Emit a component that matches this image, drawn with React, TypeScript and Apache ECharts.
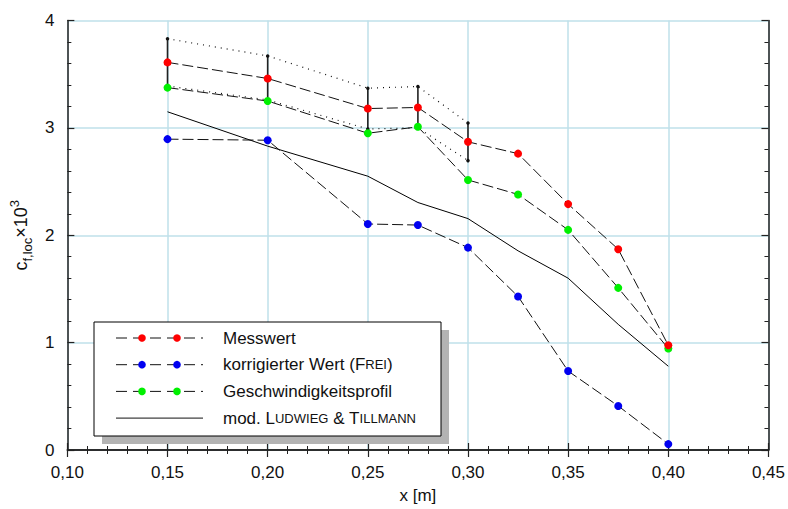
import React, { useEffect, useRef } from "react";
import * as echarts from "echarts";

const xs = [0.15, 0.2, 0.25, 0.275, 0.3, 0.325, 0.35, 0.375, 0.4];
const messwert = [3.61, 3.46, 3.18, 3.19, 2.87, 2.76, 2.29, 1.87, 0.975];
const frei = [2.895, 2.885, 2.105, 2.095, 1.885, 1.43, 0.735, 0.41, 0.055];
const profil = [3.375, 3.25, 2.95, 3.01, 2.515, 2.38, 2.05, 1.51, 0.945];
const ludwieg = [3.15, 2.83, 2.55, 2.305, 2.155, 1.855, 1.6, 1.17, 0.78];
const errX = [0.15, 0.2, 0.25, 0.275, 0.3];
const errUpper = [3.83, 3.67, 3.37, 3.385, 3.045];
const errLower = [3.39, 3.26, 2.99, 3.0, 2.695];

const colRed = "#ff0000";
const colBlue = "#0000f0";
const colGreen = "#00f000";

const FONT = "Liberation Sans, Arial, sans-serif";

const legendItems = [
  { text: "{n|Messwert}", color: colRed, dashed: true },
  { text: "{n|korrigierter Wert (F}{s|REI}{n|)}", color: colBlue, dashed: true },
  { text: "{n|Geschwindigkeitsprofil}", color: colGreen, dashed: true },
  { text: "{n|mod. L}{s|UDWIEG}{n| & T}{s|ILLMANN}", color: null, dashed: false },
];

export default function App() {
  const ref = useRef<HTMLDivElement>(null);
  useEffect(() => {
    if (!ref.current) return;
    const chart = echarts.init(ref.current, null, { renderer: "svg" });
    const pair = (ys: number[]) => xs.map((x, i) => [x, ys[i]]);
    const dashed = { color: "#111", width: 1, type: [11, 4] as any };

    const lx = 94, ly = 322, lw = 347, lh = 114;
    const legendGraphics: any[] = [
      { type: "rect", shape: { x: lx + 8, y: ly + 8, width: lw, height: lh }, style: { fill: "#b3b3b3" }, z: 100 },
      { type: "rect", shape: { x: lx, y: ly, width: lw, height: lh }, style: { fill: "#fff", stroke: "#000", lineWidth: 1 }, z: 101 },
    ];
    legendItems.forEach((it, i) => {
      const y = 338 + i * 26.7;
      legendGraphics.push({
        type: "line",
        shape: { x1: 116, y1: y, x2: 203, y2: y },
        style: { stroke: "#111", lineWidth: 1, lineDash: it.dashed ? [11, 6] : null },
        z: 102,
      });
      if (it.color) {
        [142, 177].forEach((cx) =>
          legendGraphics.push({ type: "circle", shape: { cx, cy: y, r: 3.8 }, style: { fill: it.color }, z: 103 })
        );
      }
      legendGraphics.push({
        type: "text",
        x: 223,
        y,
        style: {
          text: it.text,
          verticalAlign: "middle",
          fill: "#111",
          rich: {
            n: { fontSize: 17, fontFamily: FONT, fill: "#111" },
            s: { fontSize: 13, fontFamily: FONT, fill: "#111" },
          },
        },
        z: 103,
      });
    });

    const axisCommon = {
      axisLine: { show: true, lineStyle: { color: "#222", width: 1.5 } },
      axisTick: { show: true, inside: true, length: 7, lineStyle: { color: "#222", width: 1.2 } },
      minorTick: { show: true, splitNumber: 5, length: 4, lineStyle: { color: "#222", width: 1 } },
    };

    chart.setOption({
      animation: false,
      backgroundColor: "#fff",
      grid: { left: 66, right: 19, top: 20.5, bottom: 54.5 },
      xAxis: [
        {
          type: "value",
          min: 0.1,
          max: 0.45,
          interval: 0.05,
          position: "bottom",
          ...axisCommon,
          splitLine: { show: true, lineStyle: { color: "#bfe0ea", width: 1.5 } },
          axisLabel: {
            fontSize: 17,
            fontFamily: FONT,
            color: "#111",
            margin: 14,
            formatter: (v: number) => v.toFixed(2).replace(".", ","),
          },
          name: "x [m]",
          nameLocation: "middle",
          nameGap: 37,
          nameTextStyle: { fontSize: 17, fontFamily: FONT, color: "#111" },
        },
        {
          type: "value",
          min: 0.1,
          max: 0.45,
          interval: 0.05,
          position: "top",
          ...axisCommon,
          splitLine: { show: false },
          axisLabel: { show: false },
        },
      ],
      yAxis: [
        {
          type: "value",
          min: 0,
          max: 4,
          interval: 1,
          position: "left",
          ...axisCommon,
          splitLine: { show: true, lineStyle: { color: "#bfe0ea", width: 1.5 } },
          axisLabel: { fontSize: 17, fontFamily: FONT, color: "#111", margin: 13 },
          name: "{c|c}{sub|f,loc}{x|×10}{sup|3}",
          nameLocation: "middle",
          nameRotate: 90,
          nameGap: 26,
          nameTextStyle: {
            rich: {
              c: { fontSize: 18, fontFamily: FONT, color: "#111", lineHeight: 26, verticalAlign: "middle" },
              sub: { fontSize: 13, fontFamily: FONT, color: "#111", lineHeight: 26, verticalAlign: "bottom" },
              x: { fontSize: 18, fontFamily: FONT, color: "#111", lineHeight: 26, verticalAlign: "middle" },
              sup: { fontSize: 13, fontFamily: FONT, color: "#111", lineHeight: 26, verticalAlign: "top" },
            },
          },
        },
        {
          type: "value",
          min: 0,
          max: 4,
          interval: 1,
          position: "right",
          ...axisCommon,
          splitLine: { show: false },
          axisLabel: { show: false },
        },
      ],
      series: [
        {
          type: "line",
          data: pair(ludwieg),
          symbol: "none",
          lineStyle: { color: "#000", width: 1 },
        },
        {
          type: "line",
          data: errX.map((x, i) => [x, errUpper[i]]),
          symbol: "circle",
          symbolSize: 3.5,
          itemStyle: { color: "#111" },
          lineStyle: { color: "#111", width: 1.2, type: [1, 5] as any },
        },
        {
          type: "line",
          data: errX.map((x, i) => [x, errLower[i]]),
          symbol: "circle",
          symbolSize: 3.5,
          itemStyle: { color: "#111" },
          lineStyle: { color: "#111", width: 1.2, type: [1, 5] as any },
        },
        {
          type: "custom",
          data: errX.map((x, i) => [x, errLower[i], errUpper[i]]),
          encode: { x: 0, y: [1, 2] },
          renderItem: (_p: any, api: any) => {
            const x = api.value(0);
            const a = api.coord([x, api.value(1)]);
            const b = api.coord([x, api.value(2)]);
            return {
              type: "line",
              shape: { x1: a[0], y1: a[1], x2: b[0], y2: b[1] },
              style: { stroke: "#222", lineWidth: 1.6 },
            };
          },
        },
        {
          type: "line",
          data: pair(frei),
          symbol: "circle",
          symbolSize: 8,
          itemStyle: { color: colBlue },
          lineStyle: dashed,
        },
        {
          type: "line",
          data: pair(profil),
          symbol: "circle",
          symbolSize: 8,
          itemStyle: { color: colGreen },
          lineStyle: dashed,
        },
        {
          type: "line",
          data: pair(messwert),
          symbol: "circle",
          symbolSize: 8,
          itemStyle: { color: colRed },
          lineStyle: dashed,
        },
      ],
      graphic: legendGraphics,
    });
    return () => chart.dispose();
  }, []);
  return <div ref={ref} style={{ position: "absolute", left: 0, top: 0, width: 788, height: 509 }} />;
}
